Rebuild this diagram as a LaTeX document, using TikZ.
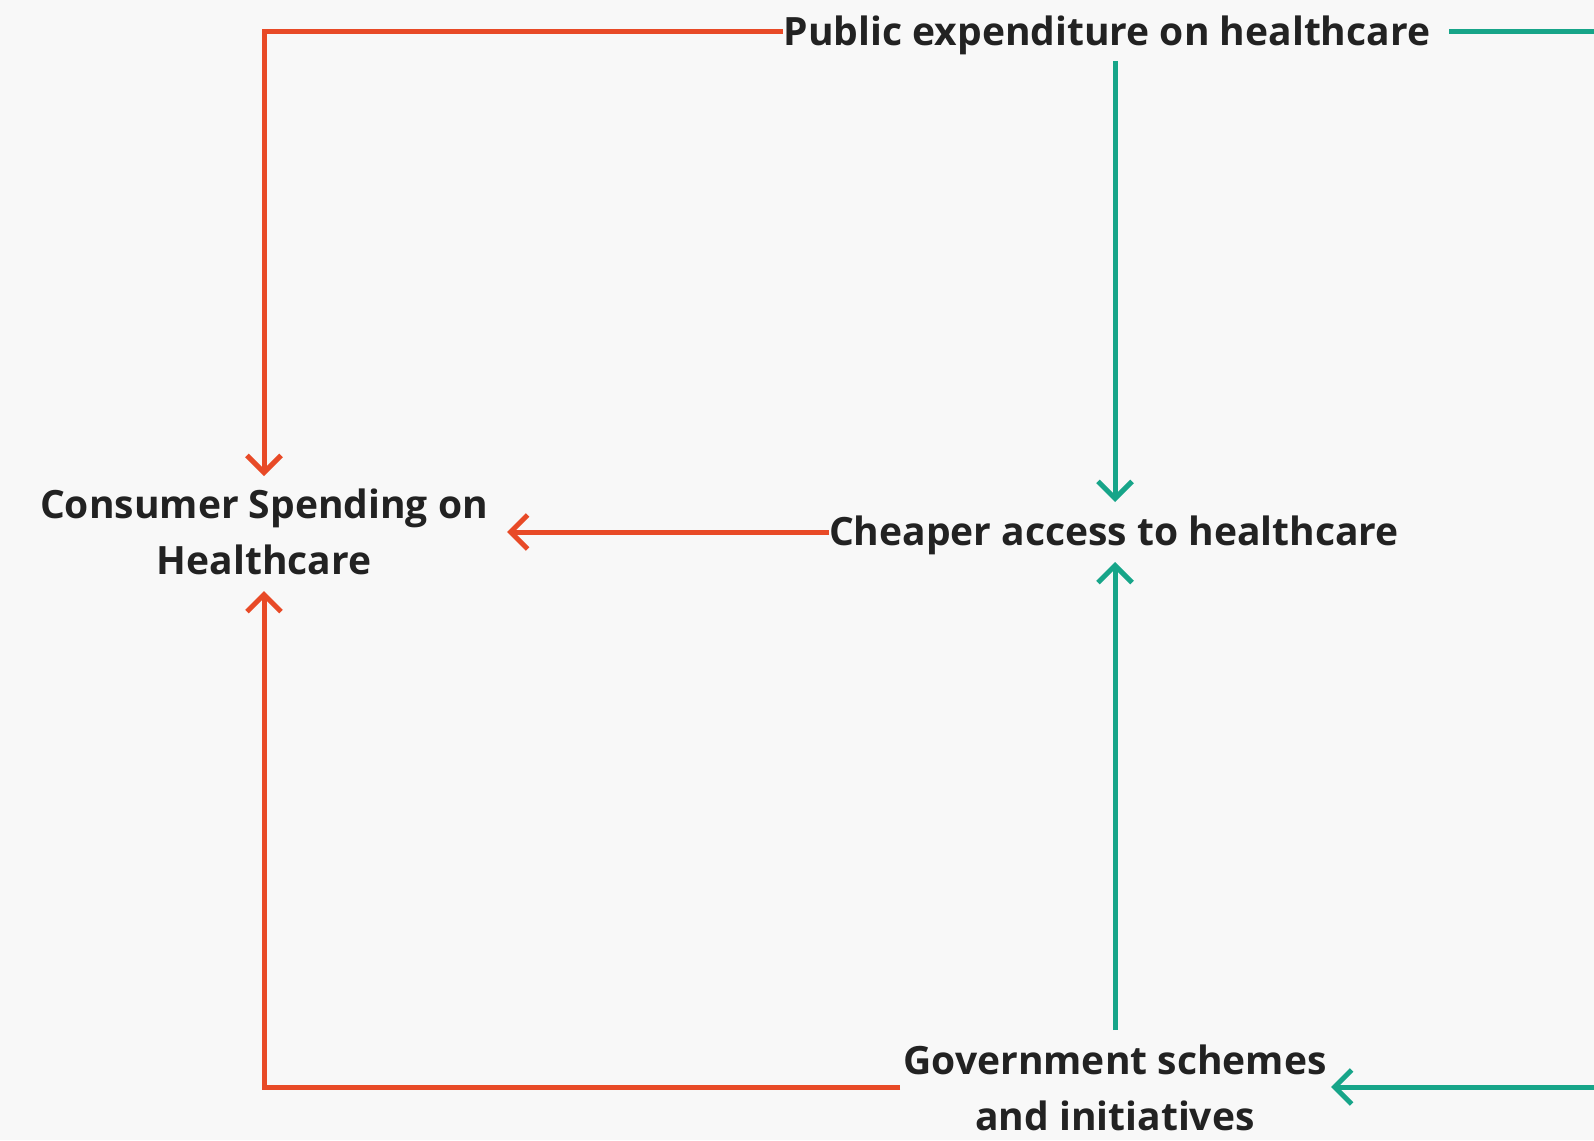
\documentclass[tikz,border=0pt]{standalone}
\usepackage{fontspec}
\setmainfont{Open Sans}
\usetikzlibrary{arrows.meta,calc}
\definecolor{bg}{HTML}{F8F8F8}
\definecolor{redc}{HTML}{E84A27}
\definecolor{greenc}{HTML}{17A589}
\definecolor{txt}{HTML}{222222}
\tikzset{
  lbl/.style={font=\fontsize{39}{56}\selectfont\bfseries, text=txt, align=center, inner sep=0pt},
  tip/.style={-{Straight Barb[length=17pt,width=34pt,line width=5pt]}},
  redline/.style={draw=redc, line width=5pt, tip},
  greenline/.style={draw=greenc, line width=5pt, tip},
  plainred/.style={draw=redc, line width=5pt},
  plaingreen/.style={draw=greenc, line width=5pt}
}
\begin{document}
\begin{tikzpicture}[x=1pt,y=-1pt]
\fill[bg] (0,0) rectangle (1594,1140);
\useasboundingbox (0,0) rectangle (1594,1140);

\node[lbl] (pub) at (1107,35) {Public expenditure on healthcare};
\node[lbl] (cons) at (264,532) {Consumer Spending on\\Healthcare};
\node[lbl] (cheap) at (1114,535) {Cheaper access to healthcare};
\node[lbl] (gov) at (1115,1088) {Government schemes\\and initiatives};

\coordinate (pubL) at (783,32);
\coordinate (pubR) at (1449,32);
\coordinate (pubB) at (1115,61);
\coordinate (consT) at (264,476);
\coordinate (consR) at (507,532);
\coordinate (consB) at (264,591);
\coordinate (cheapL) at (829,532);
\coordinate (cheapT) at (1115,502);
\coordinate (cheapB) at (1115,562);
\coordinate (govT) at (1115,1030);
\coordinate (govL) at (900,1087);
\coordinate (govR) at (1331,1087);
\coordinate (edgeT) at (1594,32);
\coordinate (edgeB) at (1594,1087);

\draw[redline] (pubL) -| (consT);
\draw[plaingreen] (pubR) -- (edgeT);
\draw[greenline] (pubB) -- (cheapT);
\draw[redline] (cheapL) -- (consR);
\draw[greenline] (govT) -- (cheapB);
\draw[redline] (govL) -| (consB);
\draw[greenline] (edgeB) -- (govR);
\end{tikzpicture}
\end{document}
